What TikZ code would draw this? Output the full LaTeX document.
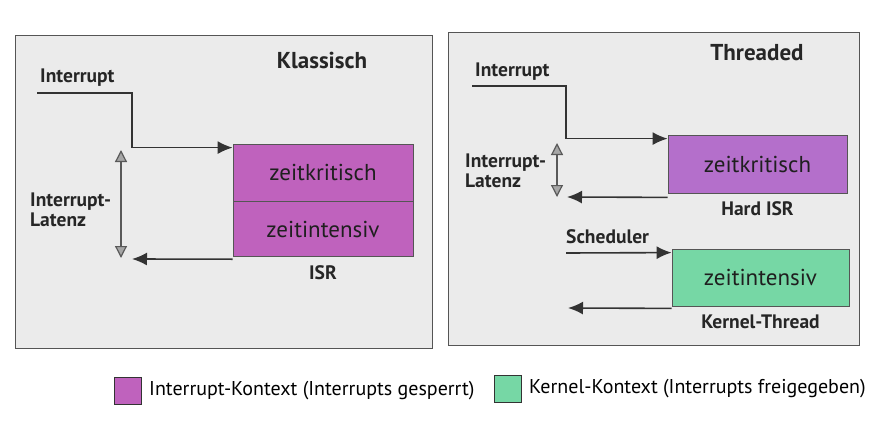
\documentclass[tikz,border=0pt]{standalone}
\usepackage{fontspec}
\setmainfont{PT Sans}
\usepackage{xcolor}
\usepackage{tikz}
\usetikzlibrary{arrows.meta, positioning}

\definecolor{panelgrau}{HTML}{EBEBEB}
\definecolor{rahmengrau}{HTML}{555555}
\definecolor{isrlila}{HTML}{BF62BD}
\definecolor{hardlila}{HTML}{B46FCB}
\definecolor{kernelgruen}{HTML}{76D7A5}

\begin{document}
\begin{tikzpicture}[x=1pt, y=-1pt, >=latex]
        % Stile fuer die verschiedenen Elemente
        \tikzstyle{panel} = [draw=rahmengrau, line width=1pt, fill=panelgrau]
        \tikzstyle{isrbox} = [rectangle, minimum width=180pt, minimum height=57pt, text centered, draw=rahmengrau, line width=0.8pt, text=black!88, font=\fontsize{23}{25}\selectfont]
        \tikzstyle{label} = [font=\fontsize{19.5}{20}\selectfont\bfseries, text=black!85, inner sep=0pt]
        \tikzstyle{title} = [font=\fontsize{23}{25}\selectfont\bfseries, text=black!85, inner sep=0pt]
        \tikzstyle{legende} = [rectangle, minimum size=27pt, inner sep=0pt, draw=black!80, line width=1pt]
        \tikzstyle{arrow} = [draw=black!80, line width=1.6pt, ->, >={Latex[length=15pt, width=13pt]}]
        \tikzstyle{latenz} = [draw=black!65, line width=1.2pt, {Triangle[length=12pt, width=12pt, fill=black!35]}-{Triangle[length=12pt, width=12pt, fill=black!35]}]

        % Hintergrund und Rahmen
        \fill[white] (0,0) rectangle (878,423);
        \draw[panel] (15,35) rectangle (432,348);
        \draw[panel] (448,32) rectangle (859,345);

        % Klassisch
        \node (titelKlassisch) [title] at (322,60) {Klassisch};
        \node (krit) [isrbox, fill=isrlila] at (323,172.5) {zeitkritisch};
        \node (intens) [isrbox, fill=isrlila, below=0pt of krit, minimum height=55pt] {zeitintensiv};
        \node (isrLabel) [label, below=8pt of intens] {ISR};
        \node (intLabelA) [label, anchor=west] at (40,78) {Interrupt};
        \node (latenzA) [label, anchor=west, align=left] at (30,210) {Interrupt-\\Latenz};
        \coordinate (intStartA) at (37,93);
        \coordinate (retEndA) at (132,259);
        \coordinate (latOberA) at (121,150);
        \coordinate (latUnterA) at (121,258);

        % Threaded
        \node (titelThreaded) [title] at (757,53) {Threaded};
        \node (hardIsr) [isrbox, fill=hardlila, minimum width=179pt, minimum height=58pt] at (757.5,164) {zeitkritisch};
        \node (hardLabel) [label, below=8pt of hardIsr] {Hard ISR};
        \node (kernel) [isrbox, fill=kernelgruen, minimum width=177pt, minimum height=57pt] at (760.5,277.5) {zeitintensiv};
        \node (kernelLabel) [label, below=8pt of kernel] {Kernel-Thread};
        \node (intLabelB) [label, anchor=west] at (475,72) {Interrupt};
        \node (latenzB) [label, anchor=west, align=left] at (465,171) {Interrupt-\\Latenz};
        \node (schedLabel) [label, anchor=west] at (566,237) {Scheduler};
        \coordinate (intStartB) at (472,86);
        \coordinate (retEndB) at (567,197);
        \coordinate (schedStart) at (566,253);
        \coordinate (kernelEnd) at (568,308);
        \coordinate (latOberB) at (557,143);
        \coordinate (latUnterB) at (557,197);

        % Legende
        \node (legIsr) [legende, fill=isrlila] at (128,391) {};
        \node (legIsrText) [right=7pt of legIsr, font=\fontsize{20}{22}\selectfont, inner sep=0pt] {Interrupt-Kontext (Interrupts gesperrt)};
        \node (legKernel) [legende, fill=kernelgruen] at (508,389) {};
        \node (legKernelText) [right=7pt of legKernel, font=\fontsize{20}{22}\selectfont, inner sep=0pt] {Kernel-Kontext (Interrupts freigegeben)};

        % Pfeile zeichnen
        \draw [arrow] (intStartA) -- ++(95,0) |- ([yshift=-4pt]krit.north west);
        \draw [arrow] ([yshift=-2pt]intens.south west) -- (retEndA);
        \draw [latenz] (latOberA) -- (latUnterA);
        \draw [arrow] (intStartB) -- ++(94,0) |- ([yshift=-4pt]hardIsr.north west);
        \draw [arrow] ([yshift=-4pt]hardIsr.south west) -- (retEndB);
        \draw [latenz] (latOberB) -- (latUnterB);
        \draw [arrow] (schedStart) -- ([yshift=-4pt]kernel.north west);
        \draw [arrow] ([yshift=-2pt]kernel.south west) -- (kernelEnd);
    \end{tikzpicture}
\end{document}
